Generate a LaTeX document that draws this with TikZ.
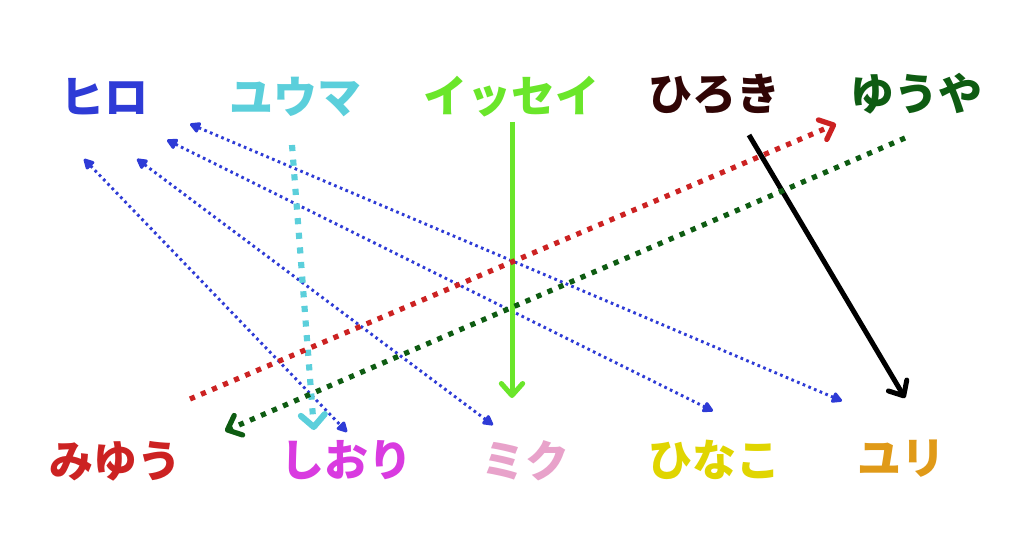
\documentclass[tikz,border=0pt]{standalone}
\usepackage{fontspec}
\newfontfamily\jp{Noto Sans CJK JP}
\usetikzlibrary{arrows.meta}
\definecolor{chiro}{HTML}{2E3BD6}
\definecolor{cyuma}{HTML}{5BCFDB}
\definecolor{cissei}{HTML}{6AE62A}
\definecolor{chiroki}{HTML}{300505}
\definecolor{cyuya}{HTML}{0E5C12}
\definecolor{cmiyu}{HTML}{CC2222}
\definecolor{cshiori}{HTML}{D93BE0}
\definecolor{cmiku}{HTML}{E8A2CA}
\definecolor{chinako}{HTML}{E0D500}
\definecolor{cyuri}{HTML}{E09A18}
\tikzset{
  pname/.style={font=\jp\bfseries\fontsize{33}{40}\selectfont, inner sep=0pt},
  bluelink/.style={chiro, line width=2.2pt, line cap=butt, dash pattern=on 2pt off 2.6pt,
    {Triangle[length=9pt,width=9pt,round]}-{Triangle[length=9pt,width=9pt,round]}},
  thicktip/.style={-{Straight Barb[length=9pt,width=16pt,line cap=round,line join=round]}},
  dotlink/.style={line width=3.9pt, dash pattern=on 3.9pt off 5.1pt, thicktip},
}
\begin{document}
\begin{tikzpicture}[x=0.75pt,y=-0.75pt]
\useasboundingbox[fill=white] (0,0) rectangle (1024,538);
% top names
\node[pname, text=chiro]   (hiro)   at (104,97) {ヒロ};
\node[pname, text=cyuma]   (yuma)   at (295,97) {ユウマ};
\node[pname, text=cissei]  (issei)  at (511,97) {イッセイ};
\node[pname, text=chiroki] (hiroki) at (714,94) {ひろき};
\node[pname, text=cyuya]   (yuya)   at (916,94) {ゆうや};
% bottom names
\node[pname, text=cmiyu]   (miyu)   at (115,461) {みゆう};
\node[pname, text=cshiori] (shiori) at (346,460) {しおり};
\node[pname, text=cmiku]   (miku)   at (525,461) {ミク};
\node[pname, text=chinako] (hinako) at (714,460) {ひなこ};
\node[pname, text=cyuri]   (yuri)   at (901,459) {ユリ};
% connector ends
\coordinate (b1a) at (84,159);  \coordinate (b1b) at (347,432);
\coordinate (b2a) at (137,159); \coordinate (b2b) at (493,425);
\coordinate (b3a) at (167,140); \coordinate (b3b) at (713,411);
\coordinate (b4a) at (190,124); \coordinate (b4b) at (842,401);
\coordinate (ys) at (292,145); \coordinate (ye) at (314,430);
\coordinate (is) at (512,122); \coordinate (ie) at (512,398);
\coordinate (hs) at (749,135); \coordinate (he) at (905,398);
\coordinate (ms) at (190,399); \coordinate (me) at (836,124);
\coordinate (us) at (905,138); \coordinate (ue) at (225,431);
% connectors
\draw[bluelink] (b1a) -- (b1b);
\draw[bluelink] (b2a) -- (b2b);
\draw[bluelink] (b3a) -- (b3b);
\draw[bluelink] (b4a) -- (b4b);
\draw[cyuma, line width=4.6pt, dash pattern=on 4.6pt off 6.4pt,
  -{Straight Barb[length=9pt,width=18pt,line cap=round,line join=round]}] (ys) -- (ye);
\draw[cissei, line width=3.75pt, thicktip] (is) -- (ie);
\draw[black, line width=3.75pt, thicktip] (hs) -- (he);
\draw[cmiyu, dotlink] (ms) -- (me);
\draw[cyuya, dotlink] (us) -- (ue);
\end{tikzpicture}
\end{document}
